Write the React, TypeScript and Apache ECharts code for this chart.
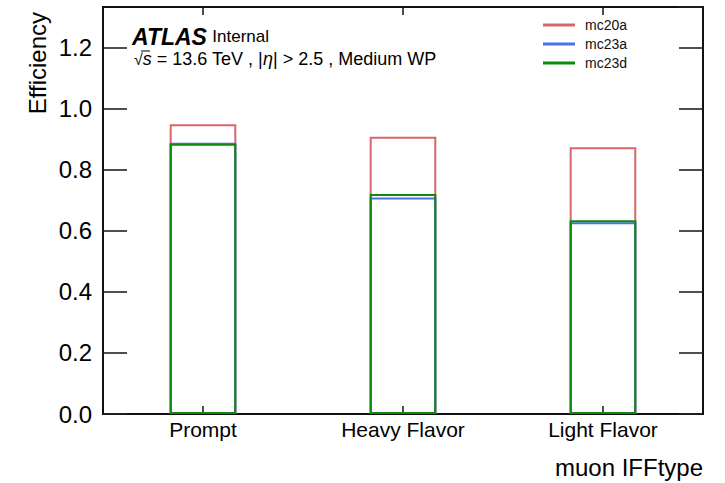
import React, { useEffect, useRef } from "react";
import * as echarts from "echarts";

// Muon isolation efficiency per IFF truth type, for three MC campaigns
const categories = ["Prompt", "Heavy Flavor", "Light Flavor"];
const mc20a = [0.949, 0.908, 0.874];
const mc23a = [0.889, 0.709, 0.628];
const mc23d = [0.885, 0.721, 0.635];
const yTicks = [0, 0.2, 0.4, 0.6, 0.8, 1.0, 1.2];

const FONT = "'Liberation Sans', Arial, Helvetica, sans-serif";
const RED = "#d9666a";
const BLUE = "#4a70e2";
const GREEN = "#0c8a0c";

const App: React.FC = () => {
  const ref = useRef<HTMLDivElement>(null);

  useEffect(() => {
    if (!ref.current) return;
    const chart = echarts.init(ref.current, undefined, { renderer: "svg" });

    const barSeries = (name: string, data: number[], color: string) => ({
      name,
      type: "bar" as const,
      data,
      barWidth: "33.3%",
      barGap: "-100%",
      itemStyle: { color: "rgba(0,0,0,0)", borderColor: color, borderWidth: 2 },
      emphasis: { disabled: true },
    });

    const yCommon = {
      type: "value" as const,
      min: 0,
      max: 1.3333,
      interval: 0.2,
      splitLine: { show: false },
      axisLine: { show: true, onZero: false, lineStyle: { color: "#111", width: 2 } },
      axisTick: { show: true, inside: true, length: 24, lineStyle: { color: "#222", width: 1.6 } },
    };

    const xCommon = {
      type: "category" as const,
      data: categories,
      splitLine: { show: false },
      axisLine: { show: true, onZero: false, lineStyle: { color: "#111", width: 2 } },
      axisTick: { show: true, inside: true, length: 8, alignWithLabel: true, lineStyle: { color: "#222", width: 1.6 } },
    };

    chart.setOption({
      animation: false,
      backgroundColor: "#ffffff",
      grid: {
        left: 103,
        right: 22,
        top: 7,
        bottom: 69,
        containLabel: false,
        show: true,
        borderColor: "#111",
        borderWidth: 2,
      },
      xAxis: [
        {
          ...xCommon,
          position: "bottom",
          axisLabel: { color: "#000", fontFamily: FONT, fontSize: 21, margin: 5 },
        },
        {
          ...xCommon,
          position: "top",
          axisLabel: { show: false },
        },
      ],
      yAxis: [
        {
          ...yCommon,
          position: "left",
          axisLabel: {
            color: "#000",
            fontFamily: FONT,
            fontSize: 24,
            margin: 11,
            showMaxLabel: false,
            formatter: (v: number) =>
              yTicks.some((t) => Math.abs(t - v) < 1e-6) ? v.toFixed(1) : "",
          },
        },
        {
          ...yCommon,
          position: "right",
          axisLabel: { show: false },
        },
      ],
      legend: {
        orient: "vertical",
        left: 543,
        top: 18,
        padding: 0,
        itemWidth: 32,
        itemHeight: 3,
        itemGap: 5,
        textStyle: { fontFamily: FONT, fontSize: 14, color: "#111", lineHeight: 14, padding: [0, 0, 0, 5] },
        selectedMode: false,
        data: [
          { name: "mc20a", icon: "rect", itemStyle: { color: RED, borderWidth: 0 } },
          { name: "mc23a", icon: "rect", itemStyle: { color: BLUE, borderWidth: 0 } },
          { name: "mc23d", icon: "rect", itemStyle: { color: GREEN, borderWidth: 0 } },
        ],
      },
      series: [
        barSeries("mc20a", mc20a, RED),
        barSeries("mc23a", mc23a, BLUE),
        barSeries("mc23d", mc23d, GREEN),
      ],
      graphic: [
        {
          type: "text",
          x: 37,
          y: 12,
          rotation: Math.PI / 2,
          style: {
            text: "Efficiency",
            fontFamily: FONT,
            fontSize: 24,
            fill: "#000",
            align: "right",
            verticalAlign: "middle",
          },
        },
        {
          type: "text",
          x: 703,
          y: 467,
          style: {
            text: "muon IFFtype",
            fontFamily: FONT,
            fontSize: 24,
            fill: "#000",
            align: "right",
            verticalAlign: "middle",
          },
        },
        {
          type: "text",
          x: 132,
          y: 48,
          style: {
            text: "{b|ATLAS} {n|Internal}",
            verticalAlign: "bottom",
            rich: {
              b: { fontFamily: FONT, fontSize: 23, fontWeight: "bold", fontStyle: "italic", fill: "#000" },
              n: { fontFamily: FONT, fontSize: 17, fill: "#000", padding: [0, 0, 0, 2] },
            },
          },
        },
        {
          type: "text",
          x: 134,
          y: 59,
          style: {
            text: "{r|√}{s|s} = 13.6 TeV , |{e|η}| > 2.5 , Medium WP",
            fontFamily: FONT,
            fontSize: 18,
            fill: "#000",
            verticalAlign: "middle",
            rich: {
              r: { fontFamily: FONT, fontSize: 16, fill: "#000" },
              s: { fontFamily: FONT, fontSize: 18, fontStyle: "italic", fill: "#000" },
              e: { fontFamily: FONT, fontSize: 18, fontStyle: "italic", fill: "#000" },
            },
          },
        },
        {
          type: "line",
          shape: { x1: 141, y1: 51, x2: 150, y2: 51 },
          style: { stroke: "#000", lineWidth: 1 },
        },
      ],
    });

    return () => chart.dispose();
  }, []);

  return (
    <div
      ref={ref}
      style={{ position: "absolute", left: 0, top: 0, width: 725, height: 483 }}
    />
  );
};

export default App;
